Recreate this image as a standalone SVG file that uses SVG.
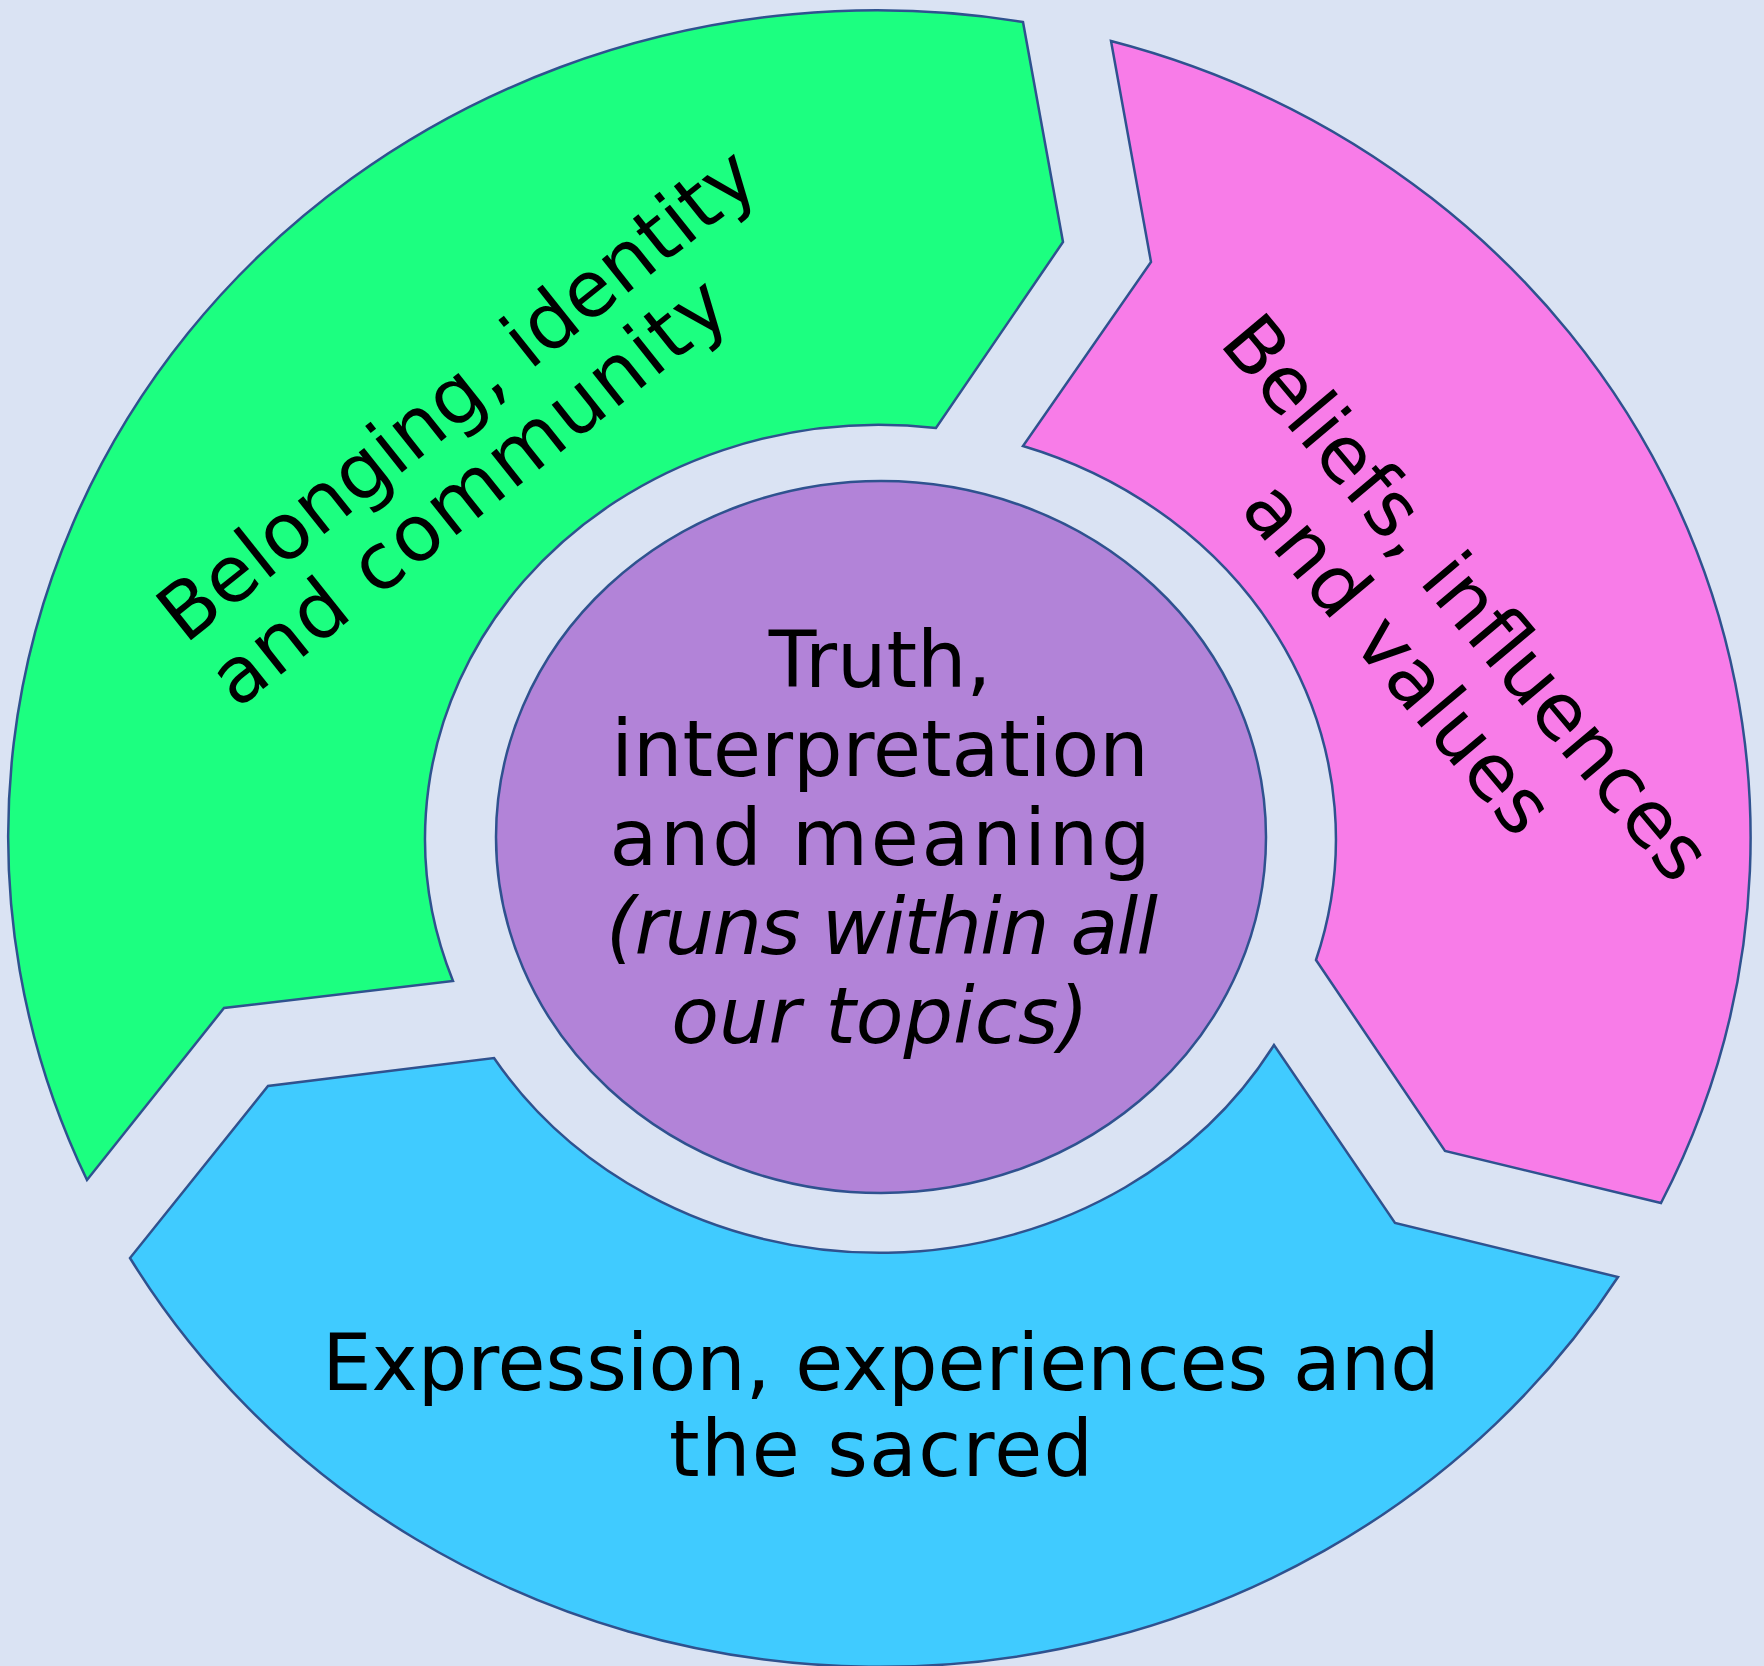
<svg xmlns="http://www.w3.org/2000/svg" width="1764" height="1666" viewBox="0 0 1764 1666">
<style>
.seg{stroke:#2F528F;stroke-width:2.5;stroke-linejoin:miter}
.t{font-family:"DejaVu Sans","Liberation Sans",sans-serif;font-size:78px;fill:#000}
.c{text-anchor:middle}
.i{font-style:italic}
</style>
<rect width="1764" height="1666" fill="#DAE3F3"/>
<g id="belonging">
<path class="seg" fill="#1CFF80" d="M1023,22 L1063,242 L936,428 A454.5,413.5 0 0 0 453,981 L224,1008 L87,1180 A869,826 0 0 1 1023,22 Z"/>
<g transform="rotate(-38.5 185 645)">
<text class="t" x="185" y="645">Belonging, identity</text>
<text class="t" x="185" y="728" textLength="635">and community</text>
</g>
</g>
<g id="beliefs">
<path class="seg" fill="#F87CE8" d="M1111,41 A869,826 0 0 1 1661,1203 L1445,1151 L1316,960 A454.5,413.5 0 0 0 1023,446 L1151,262 Z"/>
<g transform="rotate(50 1446 615)">
<text class="t c" x="1446" y="615">Beliefs, influences</text>
<text class="t c" x="1448" y="706" textLength="432">and values</text>
</g>
</g>
<g id="expression">
<path class="seg" fill="#40CBFF" d="M494,1058 A454.5,413.5 0 0 0 1274,1045 L1395,1223 L1618,1277 A869,826 0 0 1 130,1258 L268,1086 Z"/>
<text class="t c" x="881" y="1390">Expression, experiences and</text>
<text class="t c" x="881" y="1476" textLength="424">the sacred</text>
</g>
<g id="truth">
<ellipse class="seg" fill="#B283D8" cx="881" cy="837" rx="385" ry="356"/>
<text class="t c" x="880" y="687">Truth,</text>
<text class="t c" x="880" y="776">interpretation</text>
<text class="t c" x="880" y="865" textLength="541">and meaning</text>
<text class="t c i" x="882" y="954" textLength="552">(runs within all</text>
<text class="t c i" x="880" y="1043">our topics)</text>
</g>
<g id="connectors"/>
</svg>
